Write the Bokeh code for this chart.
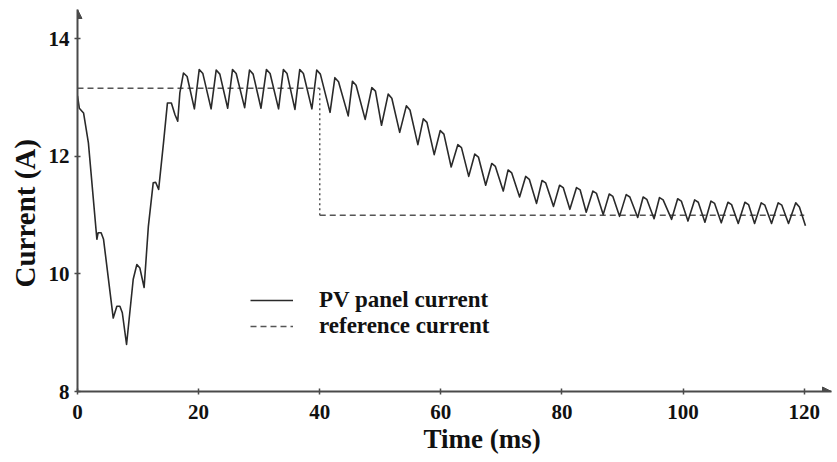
from bokeh.plotting import figure
from bokeh.models import Range1d, FixedTicker, Legend, LegendItem, Arrow, NormalHead, Title
from bokeh.embed import file_html
from bokeh.resources import INLINE

# ---- data ----
pv_time = [0.0, 0.3, 1.0, 1.8, 3.2, 3.4, 3.9, 4.3, 5.9, 6.5, 7.0, 7.4, 8.1, 9.2, 9.8,
           10.3, 11.0, 11.7, 12.5, 12.9, 13.4, 14.2, 14.85, 15.5, 16.1, 16.55, 16.9,
           17.5, 18.1, 19.3, 20.1, 20.7, 22.06, 22.9, 23.5, 24.8, 25.6, 26.2, 27.6,
           28.4, 29.0, 30.3, 31.2, 31.8, 33.2, 34.0, 34.6, 35.9, 36.7, 37.3, 38.7,
           39.5, 40.1, 41.7, 42.5, 43.1, 44.7, 45.4, 46.0, 47.5, 48.6, 49.2, 50.2,
           51.3, 51.9, 53.2, 54.3, 54.9, 56.2, 57.1, 57.7, 58.9, 59.9, 60.5, 61.7,
           62.8, 63.4, 64.6, 65.6, 66.2, 67.4, 68.4, 69.0, 70.3, 71.1, 71.7, 73.0,
           74.0, 74.6, 75.8, 76.7, 77.3, 78.6, 79.6, 80.2, 81.3, 82.4, 83.0, 84.0,
           85.1, 85.7, 86.8, 87.8, 88.4, 89.5, 90.6, 91.2, 92.5, 93.4, 94.0, 95.2,
           96.1, 96.7, 98.1, 99.1, 99.7, 100.8, 101.9, 102.5, 103.6, 104.6, 105.2,
           106.3, 107.4, 108.0, 109.1, 110.2, 110.8, 111.8, 112.9, 113.5, 114.6,
           115.7, 116.3, 117.4, 118.6, 119.2, 120.2]
pv_current = [13.03, 12.82, 12.74, 12.23, 10.59, 10.70, 10.70, 10.59, 9.25, 9.45, 9.45,
              9.34, 8.80, 9.91, 10.16, 10.10, 9.77, 10.81, 11.55, 11.56, 11.44, 12.23,
              12.91, 12.91, 12.71, 12.60, 13.08,
              13.42, 13.36, 12.81, 13.48, 13.41, 12.81, 13.47, 13.40, 12.82, 13.48,
              13.41, 12.83, 13.47, 13.40, 12.82, 13.48, 13.41, 12.81, 13.48, 13.41,
              12.80, 13.48, 13.41, 12.81, 13.47, 13.40, 12.75, 13.34, 13.27, 12.69,
              13.28, 13.21, 12.63, 13.17, 13.11, 12.53, 13.06, 12.99, 12.41, 12.86,
              12.79, 12.20, 12.64, 12.58, 12.03, 12.44, 12.38, 11.82, 12.20, 12.15,
              11.66, 12.04, 11.99, 11.51, 11.88, 11.83, 11.41, 11.77, 11.72, 11.31,
              11.66, 11.61, 11.20, 11.59, 11.55, 11.15, 11.51, 11.47, 11.10, 11.47,
              11.43, 11.05, 11.41, 11.37, 11.01, 11.36, 11.32, 10.98, 11.35, 11.31,
              10.96, 11.31, 11.27, 10.94, 11.30, 11.26, 10.93, 11.28, 11.24, 10.90,
              11.26, 11.22, 10.88, 11.24, 11.20, 10.87, 11.22, 11.18, 10.86, 11.22,
              11.18, 10.86, 11.21, 11.17, 10.86, 11.21, 11.17, 10.86, 11.21, 11.14,
              10.82]

ref_time = [0.0, 40.0, 40.0, 120.0]
ref_current = [13.16, 13.16, 11.0, 11.0]

x_ticks = [0, 20, 40, 60, 80, 100, 120]
y_ticks = [8, 10, 12, 14]

x_label = "Time (ms)"
y_label = "Current (A)"
pv_name = "PV panel current"
ref_name = "reference current"

# ---- figure ----
X_START, X_END = 0, 124.5
Y_START, Y_END = 8, 14.5
FONT = "Liberation Serif"
AXIS_COLOR = "#4a4a4a"
TEXT_COLOR = "#111111"

p = figure(width=833, height=457, output_backend="svg", toolbar_location=None,
           x_range=Range1d(X_START, X_END), y_range=Range1d(Y_START, Y_END),
           min_border_left=77, min_border_right=2, min_border_top=9,
           min_border_bottom=66)
p.outline_line_color = None
p.xgrid.visible = False
p.ygrid.visible = False
p.background_fill_color = "white"

for ax in (p.xaxis[0], p.yaxis[0]):
    ax.axis_line_color = AXIS_COLOR
    ax.axis_line_width = 2
    ax.major_tick_line_color = AXIS_COLOR
    ax.major_tick_line_width = 1.5
    ax.major_tick_in = 3
    ax.major_tick_out = 3
    ax.minor_tick_line_color = None
    ax.major_label_text_font = FONT
    ax.major_label_text_font_style = "bold"
    ax.major_label_text_font_size = "21px"
    ax.major_label_text_color = TEXT_COLOR

p.xaxis[0].ticker = FixedTicker(ticks=x_ticks)
p.yaxis[0].ticker = FixedTicker(ticks=y_ticks)
p.xaxis[0].major_label_standoff = 10
p.yaxis[0].major_label_standoff = 5

# axis titles as side-panel titles so they can sit off-centre like the reference
p.add_layout(Title(text=x_label, align="left", offset=346, standoff=0,
                   text_font=FONT, text_font_style="bold", text_font_size="27px",
                   text_color=TEXT_COLOR), "below")
p.add_layout(Title(text=y_label, align="left", offset=104, standoff=10,
                   text_font=FONT, text_font_style="bold", text_font_size="29px",
                   text_color=TEXT_COLOR), "left")

# reference current: horizontal dashed parts, dotted drop
r_ref = p.segment(x0=[ref_time[0], ref_time[2]], y0=[ref_current[0], ref_current[2]],
                  x1=[ref_time[1], ref_time[3]], y1=[ref_current[1], ref_current[3]],
                  line_color="#555555", line_width=1.5, line_dash="6 4")
p.segment(x0=[ref_time[1]], y0=[ref_current[1]], x1=[ref_time[2]], y1=[ref_current[2]],
          line_color="#555555", line_width=1.5, line_dash="2 3")

r_pv = p.line(pv_time, pv_current, line_color="#2a2a2a", line_width=1.6,
              line_join="round")

# axis arrow heads
p.add_layout(Arrow(end=NormalHead(size=9, fill_color=AXIS_COLOR, line_color=AXIS_COLOR),
                   x_start=X_END - 1, y_start=Y_START, x_end=X_END, y_end=Y_START,
                   line_alpha=0))
p.add_layout(Arrow(end=NormalHead(size=9, fill_color=AXIS_COLOR, line_color=AXIS_COLOR),
                   x_start=X_START, y_start=Y_END - 0.05, x_end=X_START, y_end=Y_END,
                   line_alpha=0))

legend = Legend(items=[LegendItem(label=pv_name, renderers=[r_pv]),
                       LegendItem(label=ref_name, renderers=[r_ref])],
                location=(173, 52), padding=0, margin=0, spacing=-4,
                glyph_width=43, glyph_height=20, label_height=20, label_standoff=26,
                border_line_alpha=0, background_fill_alpha=0,
                label_text_font=FONT, label_text_font_style="bold",
                label_text_font_size="23px", label_text_color=TEXT_COLOR)
p.add_layout(legend, "center")

open("out.html", "w").write(file_html(p, INLINE))
